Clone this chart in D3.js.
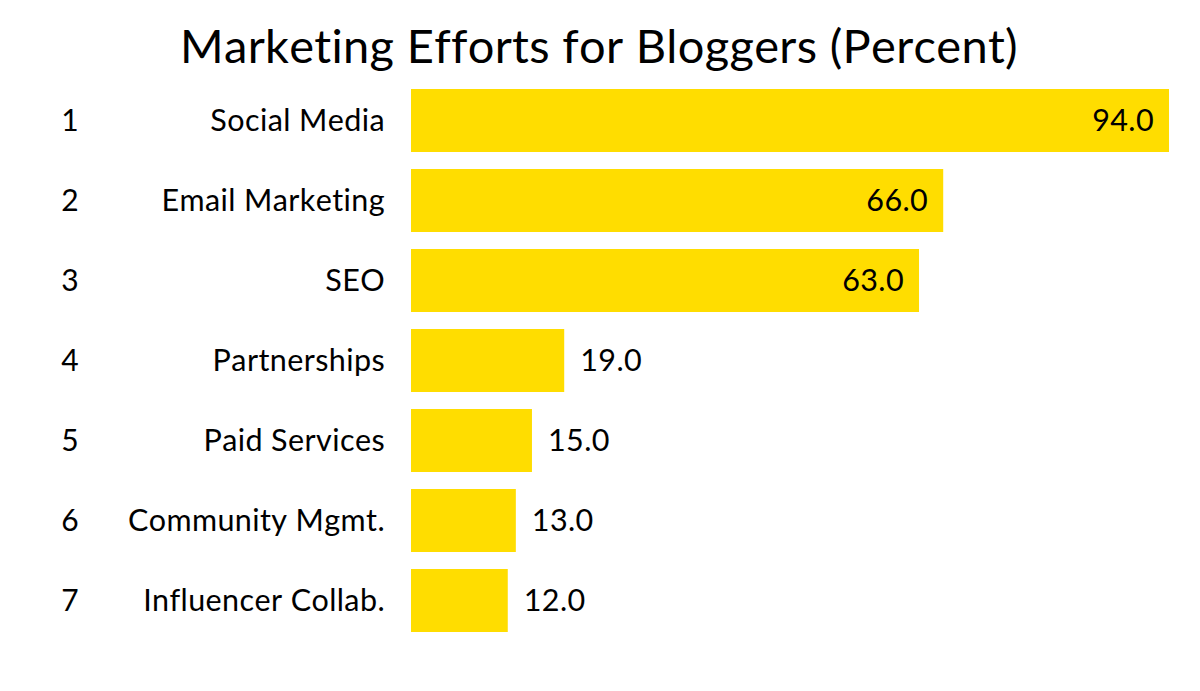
<!DOCTYPE html>
<html>
<head>
<meta charset="utf-8">
<script src="https://cdn.jsdelivr.net/npm/d3@7"></script>
<style>
  body { margin: 0; background: #fff; }
  text { font-family: Lato, sans-serif; fill: #000; font-variant-ligatures: none; font-kerning: none; }
</style>
</head>
<body>
<div id="chart"></div>
<script>
// chart data
var ranks = [1, 2, 3, 4, 5, 6, 7];
var categories = ["Social Media", "Email Marketing", "SEO", "Partnerships", "Paid Services", "Community Mgmt.", "Influencer Collab."];
var values = [94.0, 66.0, 63.0, 19.0, 15.0, 13.0, 12.0];

var svgwidth = 1200;
var svgheight = 691;

var svg = d3.select("#chart").append("svg").attr("width", svgwidth).attr("height", svgheight);

var xscale = d3.scaleLinear().domain([0, d3.max(values)]).range([411, 1169]);
var yscale = d3.scaleBand().domain(categories).range([80.5, 640.5]).paddingInner(0.2125).paddingOuter(0.10625);

svg.append("text").attr("x", 599).attr("y", 63).attr("text-anchor", "middle")
    .style("font-size", "47px").style("letter-spacing", "0.3px")
    .text("Marketing Efforts for Bloggers (Percent)");

var rows = svg.selectAll("g.row").data(categories).enter().append("g").attr("class", "row");

rows.append("rect")
    .attr("x", xscale(0))
    .attr("y", d => yscale(d))
    .attr("width", (d, i) => xscale(values[i]) - xscale(0))
    .attr("height", yscale.bandwidth())
    .attr("fill", "#ffdd00");

rows.append("text")
    .attr("x", 70)
    .attr("y", d => yscale(d) + yscale.bandwidth() / 2)
    .attr("dy", "0.35em")
    .attr("text-anchor", "middle")
    .style("font-size", "30px")
    .text((d, i) => ranks[i]);

rows.append("text")
    .attr("x", 385)
    .attr("y", d => yscale(d) + yscale.bandwidth() / 2)
    .attr("dy", "0.35em")
    .attr("text-anchor", "end")
    .style("font-size", "30.5px")
    .style("letter-spacing", "0.4px")
    .text(d => d);

// value labels: inside the bar if it's long enough, otherwise just after it
rows.append("text")
    .attr("x", (d, i) => values[i] > 40 ? xscale(values[i]) - 15 : xscale(values[i]) + 16)
    .attr("y", d => yscale(d) + yscale.bandwidth() / 2)
    .attr("dy", "0.35em")
    .attr("text-anchor", (d, i) => values[i] > 40 ? "end" : "start")
    .style("font-size", "30.5px")
    .style("letter-spacing", "0.4px")
    .text((d, i) => values[i].toFixed(1));
</script>
</body>
</html>
